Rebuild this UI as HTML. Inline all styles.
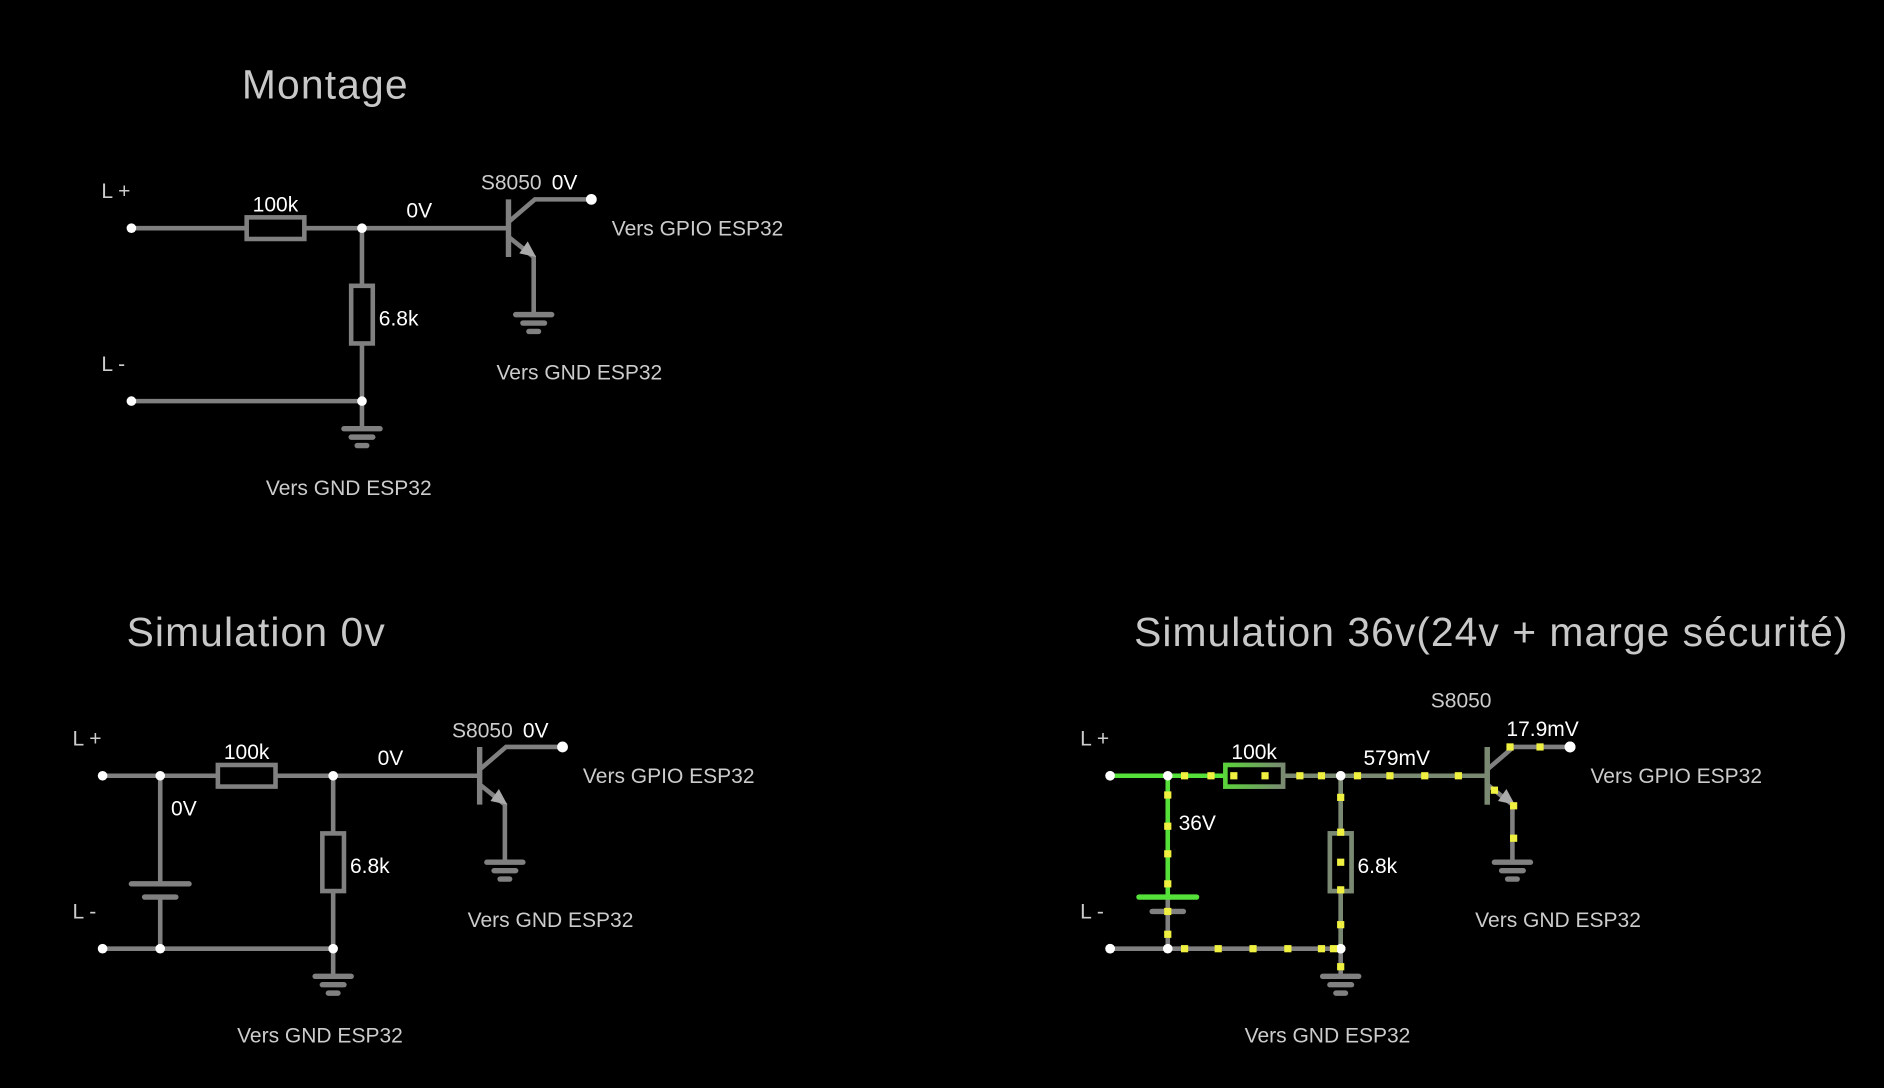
<!DOCTYPE html>
<html><head><meta charset="utf-8"><style>
html,body{margin:0;padding:0;background:#000;}
svg{display:block}
</style></head><body>
<svg width="1884" height="1088" viewBox="0 0 1568 906" xmlns="http://www.w3.org/2000/svg" font-family="Liberation Sans, sans-serif">
<rect width="1568" height="906" fill="#000"/>
<defs>
<g id="gnd" stroke="#808080" stroke-width="4.5" stroke-linecap="round">
<line x1="-15" y1="0" x2="15" y2="0"/><line x1="-9" y1="7" x2="9" y2="7"/><line x1="-4" y1="14" x2="4" y2="14"/>
</g>
</defs>
<g fill="#c8c8c8" font-size="34">
<text x="201" y="82" textLength="138">Montage</text>
<text x="105" y="538" textLength="215">Simulation 0v</text>
<text x="944" y="538" textLength="594">Simulation 36v(24v + marge sécurité)</text>
</g>

<!-- MONTAGE -->
<g id="m">
<g stroke="#808080" stroke-width="3.8" fill="none">
<line x1="109" y1="190" x2="204" y2="190"/>
<line x1="254" y1="190" x2="423" y2="190"/>
<rect x="205" y="181" width="48" height="18"/>
<line x1="301" y1="190" x2="301" y2="237"/>
<line x1="301" y1="287" x2="301" y2="357"/>
<rect x="292" y="238" width="18" height="48"/>
<line x1="109" y1="334" x2="301" y2="334"/>
<line x1="423" y1="166" x2="423" y2="214" stroke-width="4.5"/>
<polyline points="424,184 445,166 492,166"/>
<polyline points="424,198 444,214 444,261"/>
</g>
<polygon points="446,214 432,211 439,201" fill="#aaa"/>
<use href="#gnd" x="301" y="357"/>
<use href="#gnd" x="444" y="262"/>
<g fill="#fff"><circle cx="109" cy="190" r="4"/><circle cx="301" cy="190" r="4"/><circle cx="109" cy="334" r="4"/><circle cx="301" cy="334" r="4"/><circle cx="492" cy="166" r="4.5"/></g>
<g font-size="17.5" fill="#ccc">
<text x="84" y="165">L +</text><text x="84" y="309">L -</text>
<text x="509" y="196">Vers GPIO ESP32</text>
<text x="413" y="316">Vers GND ESP32</text>
<text x="221" y="412">Vers GND ESP32</text>
</g>
<g font-size="17.5" fill="#fff">
<text x="210" y="176">100k</text><text x="315" y="271">6.8k</text>
</g>
</g>
<g font-size="17.5" fill="#ccc"><text x="400" y="158">S8050</text><text x="376" y="614">S8050</text><text x="1191" y="589">S8050</text></g>
<g font-size="17.5" fill="#fff"><text x="338" y="181">0V</text><text x="459" y="158">0V</text></g>

<!-- SIM 0V -->
<use href="#m" x="-24" y="456"/>
<g stroke="#808080" stroke-width="3.8"><line x1="133" y1="646" x2="133" y2="736"/><line x1="133" y1="747" x2="133" y2="790"/>
<line x1="109" y1="736" x2="157" y2="736" stroke-width="4.5" stroke-linecap="round"/><line x1="120" y1="747" x2="146" y2="747" stroke-width="4.5" stroke-linecap="round"/></g>
<g fill="#fff"><circle cx="133" cy="646" r="4"/><circle cx="133" cy="790" r="4"/></g>
<g font-size="17.5" fill="#fff"><text x="142" y="679">0V</text><text x="314" y="637">0V</text><text x="435" y="614">0V</text></g>

<!-- SIM 36V -->
<use href="#m" x="815" y="456"/>
<defs><linearGradient id="gr" x1="0" x2="1"><stop offset="0" stop-color="#5ad23a"/><stop offset="1" stop-color="#7a8a72"/></linearGradient></defs>
<g stroke="#808080" stroke-width="3.8"><line x1="972" y1="747" x2="972" y2="790"/><line x1="959" y1="759" x2="985" y2="759" stroke-width="4.5" stroke-linecap="round"/></g>
<g stroke="#55e03a" stroke-width="3.8" fill="none">
<line x1="924" y1="646" x2="1019" y2="646"/>
<line x1="972" y1="646" x2="972" y2="747"/>
<line x1="948" y1="747" x2="996" y2="747" stroke-width="4.5" stroke-linecap="round"/>
</g>
<rect x="1020" y="637" width="48" height="18" fill="#000" stroke="url(#gr)" stroke-width="3.8"/>
<g stroke="#7a8a72" stroke-width="3.8" fill="none">
<line x1="1069" y1="646" x2="1238" y2="646"/>
<line x1="1116" y1="646" x2="1116" y2="693"/><rect x="1107" y="694" width="18" height="48" fill="#000"/>
<line x1="1116" y1="743" x2="1116" y2="790"/>
<line x1="1238" y1="622" x2="1238" y2="670" stroke-width="4.5"/>
</g>
<g fill="#fff"><circle cx="924" cy="646" r="4"/><circle cx="972" cy="646" r="4"/><circle cx="1116" cy="646" r="4"/><circle cx="924" cy="790" r="4"/><circle cx="972" cy="790" r="4"/><circle cx="1116" cy="790" r="4"/><circle cx="1307" cy="622" r="4.5"/></g>
<g fill="#f0f040">
<rect x="1024" y="643" width="6" height="6"/><rect x="1050" y="643" width="6" height="6"/>
<rect x="1005" y="643" width="6" height="6"/><rect x="983" y="643" width="6" height="6"/>
<rect x="1079" y="643" width="6" height="6"/><rect x="1097" y="643" width="6" height="6"/>
<rect x="1127" y="643" width="6" height="6"/><rect x="1154" y="643" width="6" height="6"/><rect x="1183" y="643" width="6" height="6"/><rect x="1211" y="643" width="6" height="6"/>
<rect x="969" y="659" width="6" height="6"/><rect x="969" y="685" width="6" height="6"/><rect x="969" y="708" width="6" height="6"/><rect x="969" y="733" width="6" height="6"/><rect x="969" y="756" width="6" height="6"/><rect x="969" y="775" width="6" height="6"/>
<rect x="983" y="787" width="6" height="6"/><rect x="1011" y="787" width="6" height="6"/><rect x="1040" y="787" width="6" height="6"/><rect x="1069" y="787" width="6" height="6"/><rect x="1097" y="787" width="6" height="6"/><rect x="1107" y="787" width="6" height="6"/>
<rect x="1113" y="661" width="6" height="6"/><rect x="1113" y="690" width="6" height="6"/><rect x="1113" y="715" width="6" height="6"/><rect x="1113" y="738" width="6" height="6"/><rect x="1113" y="767" width="6" height="6"/><rect x="1113" y="802" width="6" height="6"/>
<rect x="1254" y="619" width="6" height="6"/><rect x="1279" y="619" width="6" height="6"/>
<rect x="1241" y="655" width="6" height="6"/><rect x="1257" y="668" width="6" height="6"/><rect x="1257" y="695" width="6" height="6"/>
</g>
<g font-size="17.5" fill="#fff"><text x="981" y="691">36V</text><text x="1135" y="637">579mV</text><text x="1254" y="613">17.9mV</text></g>
</svg>
</body></html>
